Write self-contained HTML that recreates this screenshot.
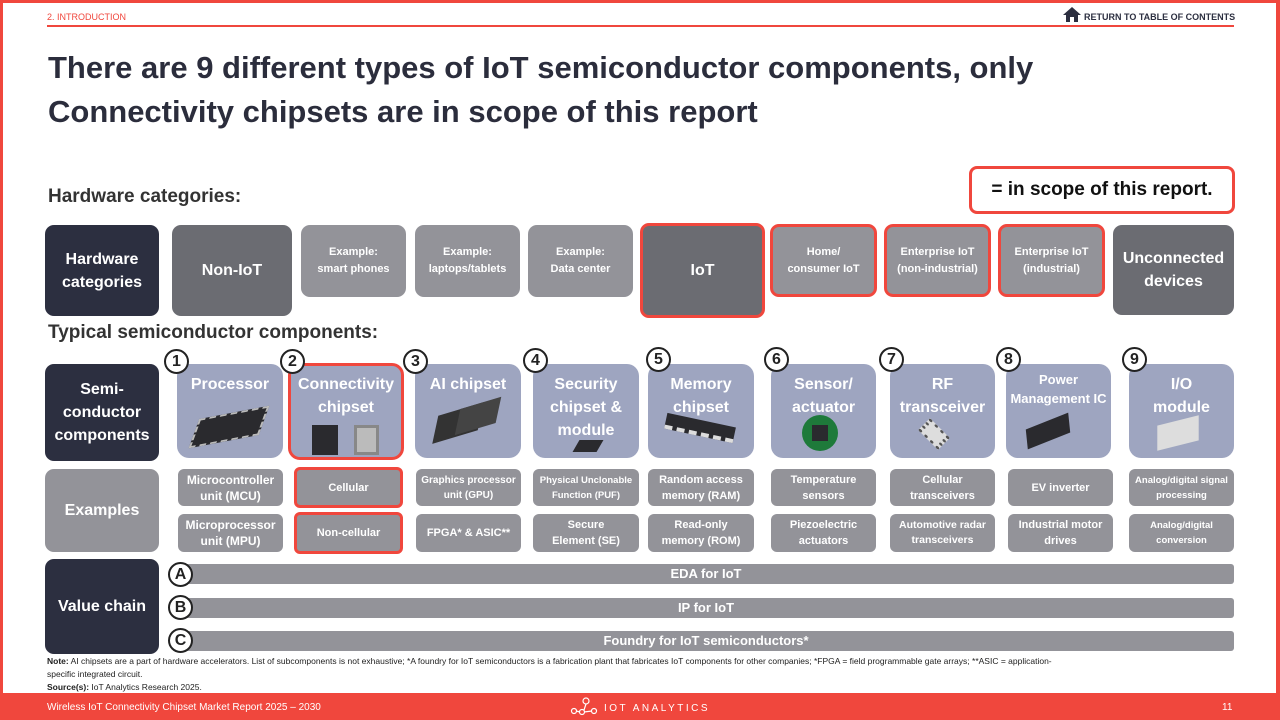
<!DOCTYPE html>
<html><head><meta charset="utf-8"><style>
*{margin:0;padding:0;box-sizing:border-box}
body{width:1280px;height:720px;position:relative;background:#fff;font-family:"Liberation Sans","DejaVu Sans",sans-serif;overflow:hidden}
.a{position:absolute}
.b{position:absolute;display:flex;align-items:center;justify-content:center;text-align:center;color:#fff;border-radius:9px;font-weight:bold}
.dk{background:#2c2f40;font-size:16px;line-height:23px}
.md{background:#6b6c72;font-size:16px;line-height:23px}
.lt{background:#939399;font-size:11px;line-height:17px;font-weight:bold}
.rb{border:3px solid #f0473d}
.cp{position:absolute;background:#9ea5c0;border-radius:12px;color:#fff;font-weight:bold;text-align:center;font-size:16px;line-height:23px;padding-top:9px}
.ex{position:absolute;background:#939399;border-radius:6px;color:#fff;display:flex;align-items:center;justify-content:center;text-align:center;font-size:11px;line-height:16px;font-weight:bold}
.c{position:absolute;width:25px;height:25px;border:2px solid #222;border-radius:50%;background:#fff;font-weight:bold;font-size:16px;line-height:21px;text-align:center;color:#222}
.bar{position:absolute;left:178px;width:1056px;height:20px;background:#939399;border-radius:3px;color:#fff;font-weight:bold;font-size:13px;line-height:20px;text-align:center}
.chip{position:absolute;background:#2a2a2e}
</style></head><body>
<div class="a" style="left:0;top:0;width:1280px;height:3px;background:#f0473d"></div>
<div class="a" style="left:0;top:0;width:3px;height:720px;background:#f0473d"></div>
<div class="a" style="left:1276px;top:0;width:4px;height:720px;background:#f0473d"></div>
<div class="a" style="left:47px;top:12px;font-size:9px;color:#f0473d">2. INTRODUCTION</div>
<svg class="a" style="left:1062px;top:6px" width="20" height="17" viewBox="0 0 20 17"><path d="M10 1 L1 9 H4 V16 H8 V11 H12 V16 H16 V9 H19 Z" fill="#2c2f40"/></svg>
<div class="a" style="left:1084px;top:12px;font-size:9px;font-weight:bold;color:#2c2f40">RETURN TO TABLE OF CONTENTS</div>
<div class="a" style="left:47px;top:25px;width:1187px;height:2px;background:#f0473d"></div>
<div class="a" style="left:48px;top:46px;font-size:31px;font-weight:bold;color:#2b2d3c;line-height:44px;white-space:nowrap">There are 9 different types of IoT semiconductor components, only<br>Connectivity chipsets are in scope of this report</div>
<div class="a" style="left:48px;top:186px;font-size:19px;font-weight:bold;color:#333">Hardware categories:</div>
<div class="b rb" style="left:969px;top:166px;width:266px;height:48px;background:#fff;color:#111;font-size:19px;border-radius:8px">= in scope of this report.</div>

<div class="b dk" style="left:45px;top:225px;width:114px;height:91px">Hardware<br>categories</div>
<div class="b md" style="left:172px;top:225px;width:120px;height:91px">Non-IoT</div>
<div class="b lt" style="left:301px;top:225px;width:105px;height:72px">Example:<br>smart phones</div>
<div class="b lt" style="left:415px;top:225px;width:105px;height:72px">Example:<br>laptops/tablets</div>
<div class="b lt" style="left:528px;top:225px;width:105px;height:72px">Example:<br>Data center</div>
<div class="b md rb" style="left:640px;top:223px;width:125px;height:95px">IoT</div>
<div class="b lt rb" style="left:770px;top:224px;width:107px;height:73px">Home/<br>consumer IoT</div>
<div class="b lt rb" style="left:884px;top:224px;width:107px;height:73px">Enterprise IoT<br>(non-industrial)</div>
<div class="b lt rb" style="left:998px;top:224px;width:107px;height:73px">Enterprise IoT<br>(industrial)</div>
<div class="b md" style="left:1113px;top:225px;width:121px;height:90px">Unconnected<br>devices</div>

<div class="a" style="left:48px;top:322px;font-size:19px;font-weight:bold;color:#333">Typical semiconductor components:</div>

<div class="b dk" style="left:45px;top:364px;width:114px;height:97px">Semi-<br>conductor<br>components</div>
<div class="cp" style="left:177px;top:364px;width:106px;height:94px">Processor</div>
<div class="cp rb" style="left:288px;top:363px;width:116px;height:97px;padding-top:7px">Connectivity<br>chipset</div>
<div class="cp" style="left:415px;top:364px;width:106px;height:94px">AI chipset</div>
<div class="cp" style="left:533px;top:364px;width:106px;height:94px">Security<br>chipset &amp;<br>module</div>
<div class="cp" style="left:648px;top:364px;width:106px;height:94px">Memory<br>chipset</div>
<div class="cp" style="left:771px;top:364px;width:105px;height:94px">Sensor/<br>actuator</div>
<div class="cp" style="left:890px;top:364px;width:105px;height:94px">RF<br>transceiver</div>
<div class="cp" style="left:1006px;top:364px;width:105px;height:94px;font-size:13px;line-height:19px;padding-top:6px">Power<br>Management IC</div>
<div class="cp" style="left:1129px;top:364px;width:105px;height:94px">I/O<br>module</div>

<!-- chip images -->
<div class="chip" style="left:197px;top:412px;width:64px;height:30px;transform:skewX(-30deg) rotate(-12deg);border:2px dashed #bbb"></div>
<div class="chip" style="left:312px;top:425px;width:26px;height:30px"></div>
<div class="chip" style="left:354px;top:425px;width:25px;height:30px;background:#bbb;border:3px solid #888"></div>
<div class="chip" style="left:438px;top:408px;width:40px;height:30px;transform:skewX(-30deg) rotate(-20deg);background:#333"></div>
<div class="chip" style="left:460px;top:402px;width:36px;height:28px;transform:skewX(-30deg) rotate(-20deg);background:#444"></div>
<div class="chip" style="left:576px;top:440px;width:24px;height:12px;transform:skewX(-30deg)"></div>
<div class="chip" style="left:665px;top:420px;width:70px;height:16px;transform:rotate(12deg);border-bottom:4px dashed #ddd"></div>
<div class="chip" style="left:802px;top:415px;width:36px;height:36px;border-radius:50%;background:#1e7a3a"></div>
<div class="chip" style="left:812px;top:425px;width:16px;height:16px"></div>
<div class="chip" style="left:920px;top:420px;width:28px;height:28px;transform:rotate(45deg) scaleY(.6);border:4px dotted #555;background:#ddd"></div>
<div class="chip" style="left:1028px;top:420px;width:40px;height:22px;transform:skewX(-20deg) rotate(-25deg)"></div>
<div class="chip" style="left:1158px;top:420px;width:40px;height:26px;background:#ddd;transform:skewX(-15deg) rotate(-15deg)"></div>

<div class="c" style="left:164px;top:349px">1</div>
<div class="c" style="left:280px;top:349px">2</div>
<div class="c" style="left:403px;top:349px">3</div>
<div class="c" style="left:523px;top:348px">4</div>
<div class="c" style="left:646px;top:347px">5</div>
<div class="c" style="left:764px;top:347px">6</div>
<div class="c" style="left:879px;top:347px">7</div>
<div class="c" style="left:996px;top:347px">8</div>
<div class="c" style="left:1122px;top:347px">9</div>

<div class="b lt" style="left:45px;top:469px;width:114px;height:83px;font-size:16px">Examples</div>
<div class="ex" style="left:178px;top:469px;width:105px;height:37px;font-size:12px">Microcontroller<br>unit (MCU)</div>
<div class="ex" style="left:178px;top:514px;width:105px;height:38px;font-size:12px">Microprocessor<br>unit (MPU)</div>
<div class="ex rb" style="left:294px;top:467px;width:109px;height:41px">Cellular</div>
<div class="ex rb" style="left:294px;top:512px;width:109px;height:42px">Non-cellular</div>
<div class="ex" style="left:416px;top:469px;width:105px;height:37px;font-size:10px;line-height:15px">Graphics processor<br>unit (GPU)</div>
<div class="ex" style="left:416px;top:514px;width:105px;height:38px">FPGA* &amp; ASIC**</div>
<div class="ex" style="left:533px;top:469px;width:106px;height:37px;font-size:9.5px;line-height:15px">Physical Unclonable<br>Function (PUF)</div>
<div class="ex" style="left:533px;top:514px;width:106px;height:38px">Secure<br>Element (SE)</div>
<div class="ex" style="left:648px;top:469px;width:106px;height:37px">Random access<br>memory (RAM)</div>
<div class="ex" style="left:648px;top:514px;width:106px;height:38px">Read-only<br>memory (ROM)</div>
<div class="ex" style="left:771px;top:469px;width:105px;height:37px">Temperature<br>sensors</div>
<div class="ex" style="left:771px;top:514px;width:105px;height:38px">Piezoelectric<br>actuators</div>
<div class="ex" style="left:890px;top:469px;width:105px;height:37px">Cellular<br>transceivers</div>
<div class="ex" style="left:890px;top:514px;width:105px;height:38px;font-size:10.5px;line-height:15px">Automotive radar<br>transceivers</div>
<div class="ex" style="left:1008px;top:469px;width:105px;height:37px">EV inverter</div>
<div class="ex" style="left:1008px;top:514px;width:105px;height:38px">Industrial motor<br>drives</div>
<div class="ex" style="left:1129px;top:469px;width:105px;height:37px;font-size:9.5px;line-height:15px">Analog/digital signal<br>processing</div>
<div class="ex" style="left:1129px;top:514px;width:105px;height:38px;font-size:9.5px;line-height:15px">Analog/digital<br>conversion</div>

<div class="b dk" style="left:45px;top:559px;width:114px;height:95px">Value chain</div>
<div class="bar" style="top:564px">EDA for IoT</div>
<div class="bar" style="top:598px">IP for IoT</div>
<div class="bar" style="top:631px">Foundry for IoT semiconductors*</div>
<div class="c" style="left:168px;top:562px">A</div>
<div class="c" style="left:168px;top:595px">B</div>
<div class="c" style="left:168px;top:628px">C</div>

<div class="a" style="left:47px;top:655px;width:1200px;font-size:8.5px;line-height:13px;color:#222;white-space:nowrap"><b>Note:</b> AI chipsets are a part of hardware accelerators. List of subcomponents is not exhaustive; *A foundry for IoT semiconductors is a fabrication plant that fabricates IoT components for other companies; *FPGA = field programmable gate arrays; **ASIC = application-<br>specific integrated circuit.<br><b>Source(s):</b> IoT Analytics Research 2025.</div>

<div class="a" style="left:0;top:693px;width:1280px;height:27px;background:#f0473d"></div>
<div class="a" style="left:47px;top:702px;font-size:10px;color:#fff">Wireless IoT Connectivity Chipset Market Report 2025 – 2030</div>
<svg class="a" style="left:570px;top:697px" width="30" height="20" viewBox="0 0 30 20"><g fill="none" stroke="#fff" stroke-width="1.2"><circle cx="16" cy="4" r="3"/><circle cx="4" cy="14" r="2.5"/><circle cx="12" cy="15" r="2.5"/><circle cx="24" cy="14" r="2.5"/><path d="M16 7 L14 13 M14 15 L22 14 M6 14 L10 15"/></g></svg>
<div class="a" style="left:604px;top:703px;font-size:10px;color:#fff;letter-spacing:2.5px">IOT ANALYTICS</div>
<div class="a" style="left:1222px;top:702px;font-size:10px;color:#fff">11</div>
</body></html>
